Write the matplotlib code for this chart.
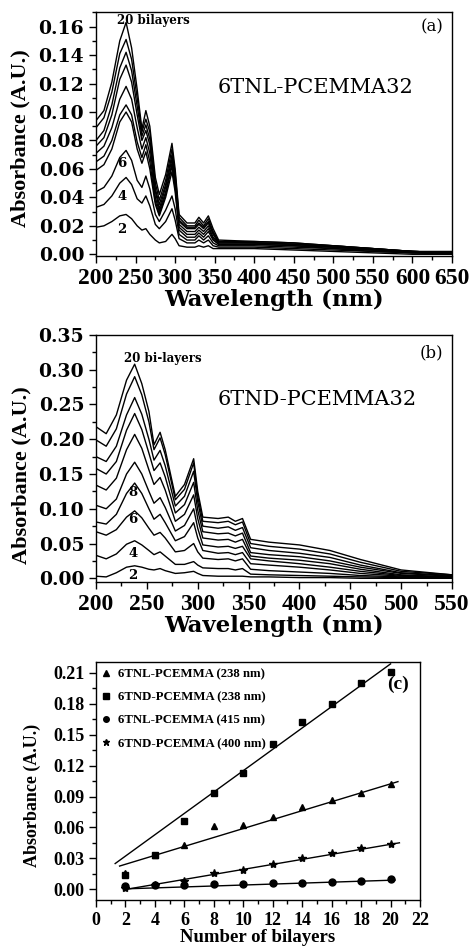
import matplotlib
matplotlib.use("Agg")
import matplotlib.pyplot as plt
from matplotlib.ticker import MultipleLocator, FormatStrFormatter
from matplotlib.lines import Line2D
import numpy as np

# ---------------- Panel (a) data: 6TNL-PCEMMA32 ----------------
wl_a = [200, 210, 220, 230, 238, 245, 252, 258, 263, 268, 275, 280, 288, 296, 300,
        305, 315, 325, 330, 336, 342, 348, 355, 400, 450, 500, 550, 600, 650]
a2 = [0.019,0.020,0.023,0.027,0.028,0.025,0.020,0.017,0.018,0.014,0.010,0.008,0.009,0.014,0.011,0.006,0.005,0.005,0.006,0.005,0.006,0.004,0.004,0.004,0.003,0.002,0.001,0.000,0.000]
a4 = [0.033,0.035,0.041,0.050,0.054,0.049,0.039,0.036,0.041,0.034,0.021,0.018,0.023,0.032,0.024,0.011,0.008,0.008,0.010,0.008,0.010,0.006,0.005,0.005,0.004,0.003,0.002,0.001,0.000]
a6 = [0.044,0.047,0.055,0.068,0.073,0.066,0.052,0.047,0.055,0.046,0.028,0.023,0.031,0.041,0.032,0.014,0.010,0.010,0.013,0.010,0.013,0.008,0.006,0.006,0.005,0.004,0.002,0.001,0.001]
a8 = [0.059,0.063,0.074,0.093,0.100,0.093,0.074,0.064,0.072,0.060,0.035,0.027,0.040,0.058,0.044,0.017,0.012,0.012,0.015,0.012,0.016,0.010,0.007,0.007,0.006,0.004,0.003,0.001,0.001]
a10 = [0.065,0.069,0.080,0.098,0.105,0.098,0.079,0.068,0.077,0.065,0.037,0.028,0.042,0.062,0.047,0.019,0.014,0.014,0.017,0.014,0.018,0.011,0.007,0.007,0.006,0.005,0.003,0.002,0.001]
a12 = [0.071,0.076,0.089,0.109,0.118,0.109,0.089,0.074,0.082,0.071,0.040,0.030,0.044,0.064,0.050,0.021,0.016,0.016,0.019,0.016,0.020,0.012,0.008,0.008,0.007,0.005,0.003,0.002,0.001]
a14 = [0.076,0.082,0.098,0.123,0.133,0.121,0.098,0.080,0.087,0.077,0.044,0.032,0.047,0.067,0.052,0.023,0.018,0.018,0.021,0.018,0.022,0.014,0.008,0.008,0.007,0.005,0.004,0.002,0.001]
a16 = [0.080,0.087,0.105,0.131,0.142,0.129,0.104,0.083,0.091,0.081,0.046,0.035,0.049,0.070,0.054,0.024,0.019,0.019,0.022,0.019,0.023,0.015,0.009,0.008,0.007,0.006,0.004,0.002,0.001]
a18 = [0.089,0.096,0.114,0.141,0.151,0.137,0.110,0.086,0.095,0.086,0.050,0.038,0.052,0.074,0.057,0.026,0.020,0.020,0.024,0.020,0.025,0.016,0.009,0.009,0.008,0.006,0.004,0.002,0.001]
a20 = [0.094,0.101,0.121,0.150,0.163,0.145,0.116,0.088,0.101,0.090,0.054,0.042,0.056,0.078,0.060,0.028,0.022,0.022,0.026,0.022,0.027,0.018,0.010,0.009,0.008,0.006,0.004,0.002,0.002]

# ---------------- Panel (b) data: 6TND-PCEMMA32 ----------------
wl_b = [200, 210, 220, 230, 238, 245, 252, 257, 263, 268, 278, 287, 296, 300, 305,
        320, 330, 337, 344, 352, 370, 400, 430, 460, 500, 550]
b2 = [0.003,0.002,0.008,0.016,0.018,0.016,0.013,0.012,0.014,0.011,0.007,0.008,0.010,0.007,0.004,0.003,0.003,0.003,0.003,0.002,0.002,0.001,0.001,0.000,0.000,0.000]
b4 = [0.033,0.028,0.035,0.049,0.054,0.048,0.040,0.034,0.038,0.032,0.020,0.020,0.024,0.019,0.015,0.014,0.014,0.012,0.014,0.006,0.005,0.004,0.003,0.002,0.001,0.000]
b6 = [0.067,0.062,0.070,0.088,0.097,0.087,0.072,0.062,0.066,0.058,0.038,0.040,0.050,0.038,0.029,0.027,0.028,0.025,0.028,0.013,0.011,0.009,0.007,0.004,0.002,0.001]
b8 = [0.081,0.078,0.092,0.122,0.137,0.122,0.100,0.085,0.092,0.080,0.054,0.060,0.080,0.058,0.040,0.036,0.037,0.034,0.037,0.021,0.019,0.016,0.012,0.007,0.003,0.001]
b10 = [0.105,0.100,0.114,0.150,0.167,0.150,0.125,0.108,0.116,0.102,0.068,0.076,0.100,0.072,0.048,0.045,0.046,0.043,0.046,0.028,0.025,0.021,0.016,0.010,0.004,0.002]
b12 = [0.134,0.127,0.144,0.185,0.207,0.187,0.156,0.135,0.145,0.127,0.082,0.092,0.120,0.086,0.058,0.055,0.056,0.052,0.056,0.032,0.029,0.026,0.021,0.013,0.005,0.002]
b14 = [0.158,0.150,0.168,0.213,0.237,0.214,0.180,0.155,0.166,0.146,0.094,0.106,0.138,0.098,0.067,0.064,0.065,0.061,0.065,0.037,0.034,0.031,0.025,0.016,0.007,0.003]
b16 = [0.175,0.168,0.190,0.235,0.260,0.236,0.200,0.170,0.184,0.162,0.104,0.118,0.154,0.110,0.075,0.072,0.074,0.069,0.073,0.044,0.040,0.036,0.030,0.019,0.008,0.004]
b18 = [0.199,0.190,0.215,0.265,0.290,0.264,0.225,0.185,0.202,0.178,0.113,0.128,0.166,0.118,0.082,0.080,0.082,0.077,0.081,0.050,0.046,0.042,0.035,0.023,0.010,0.005]
b20 = [0.218,0.208,0.235,0.285,0.308,0.280,0.240,0.192,0.210,0.185,0.118,0.135,0.172,0.125,0.088,0.086,0.088,0.082,0.086,0.056,0.052,0.048,0.040,0.027,0.012,0.005]

# ---------------- Panel (c) data ----------------
bilayers = [2, 4, 6, 8, 10, 12, 14, 16, 18, 20]
tnl_238 = [0.016, 0.033, 0.043, 0.061, 0.062, 0.070, 0.080, 0.087, 0.093, 0.102]
tnd_238 = [0.014, 0.033, 0.066, 0.093, 0.113, 0.141, 0.162, 0.180, 0.200, 0.211]
tnl_415 = [0.003, 0.004, 0.004, 0.005, 0.005, 0.006, 0.006, 0.007, 0.008, 0.010]
tnd_400 = [0.001, 0.004, 0.008, 0.016, 0.019, 0.025, 0.030, 0.035, 0.040, 0.044]
series_labels = ["6TNL-PCEMMA (238 nm)", "6TND-PCEMMA (238 nm)",
                 "6TNL-PCEMMA (415 nm)", "6TND-PCEMMA (400 nm)"]
# linear fits: (slope, intercept, x_start, x_end)
fit_tnl_238 = (0.00433, 0.0157, 1.6, 20.5)
fit_tnd_238 = (0.01035, 0.0116, 1.3, 20.0)
fit_tnl_415 = (0.000464, -0.0004, 2.0, 20.3)
fit_tnd_400 = (0.00243, -0.0049, 2.0, 20.6)

TIMES = "Liberation Serif"
WIDE = "DejaVu Serif"

fig = plt.figure(figsize=(4.70, 9.46), dpi=100)

def style_spectrum_axes(ax, xmaj, xmin, ymaj, ymin):
    ax.xaxis.set_major_locator(MultipleLocator(xmaj))
    ax.xaxis.set_minor_locator(MultipleLocator(xmin))
    ax.yaxis.set_major_locator(MultipleLocator(ymaj))
    ax.yaxis.set_minor_locator(MultipleLocator(ymin))
    ax.yaxis.set_major_formatter(FormatStrFormatter("%.2f"))
    ax.tick_params(which="both", direction="out", top=False, right=False, width=1.0, color="black")
    ax.tick_params(which="major", length=5)
    ax.tick_params(which="minor", length=3)
    for s in ax.spines.values():
        s.set_linewidth(1.0)
    for lab in ax.get_xticklabels():
        lab.set_fontfamily(TIMES); lab.set_fontweight("bold"); lab.set_fontsize(17)
    for lab in ax.get_yticklabels():
        lab.set_fontfamily(WIDE); lab.set_fontweight("bold"); lab.set_fontsize(13.5)

# ---- (a)
axa = fig.add_axes([0.2043, 0.7294, 0.7574, 0.2579])
for ys in [a2, a4, a6, a8, a10, a12, a14, a16, a18, a20]:
    axa.plot(wl_a, ys, color="black", lw=1.0)
axa.set_xlim(200, 650)
axa.set_ylim(-0.0012, 0.1703)
style_spectrum_axes(axa, 50, 25, 0.02, 0.01)
axa.set_xlabel("Wavelength (nm)", fontsize=16.5, family=WIDE, weight="bold", labelpad=0)
axa.set_ylabel("Absorbance (A.U.)", fontsize=16, family=TIMES, weight="bold")
axa.yaxis.set_label_coords(-0.183, 0.484)
axa.text(0.343, 0.69, "6TNL-PCEMMA32", transform=axa.transAxes, family=WIDE,
         fontsize=15, ha="left", va="center")
axa.text(0.975, 0.938, "(a)", transform=axa.transAxes, family=WIDE,
         fontsize=12, ha="right", va="center")
axa.text(0.06, 0.965, "20 bilayers", transform=axa.transAxes, family=WIDE,
         weight="bold", fontsize=8.5, ha="left", va="center")
for txt, (xx, yy) in {"6": (232.5, 0.0635), "4": (232.5, 0.0403), "2": (232.5, 0.0171)}.items():
    axa.text(xx, yy, txt, family=WIDE, weight="bold", fontsize=9.5, ha="center", va="center")

# ---- (b)
axb = fig.add_axes([0.2043, 0.3848, 0.7574, 0.2611])
for ys in [b2, b4, b6, b8, b10, b12, b14, b16, b18, b20]:
    axb.plot(wl_b, ys, color="black", lw=1.0)
axb.set_xlim(200, 550)
axb.set_ylim(-0.0053, 0.350)
style_spectrum_axes(axb, 50, 25, 0.05, 0.025)
axb.set_xlabel("Wavelength (nm)", fontsize=16.5, family=WIDE, weight="bold", labelpad=0)
axb.set_ylabel("Absorbance (A.U.)", fontsize=16, family=TIMES, weight="bold")
axb.yaxis.set_label_coords(-0.180, 0.433)
axb.text(0.343, 0.737, "6TND-PCEMMA32", transform=axb.transAxes, family=WIDE,
         fontsize=15, ha="left", va="center")
axb.text(0.975, 0.927, "(b)", transform=axb.transAxes, family=WIDE,
         fontsize=12, ha="right", va="center")
axb.text(0.08, 0.905, "20 bi-layers", transform=axb.transAxes, family=WIDE,
         weight="bold", fontsize=8.5, ha="left", va="center")
for txt, (xx, yy) in {"8": (236.4, 0.1227), "6": (236.4, 0.0839), "4": (236.4, 0.035), "2": (236.4, 0.0047)}.items():
    axb.text(xx, yy, txt, family=WIDE, weight="bold", fontsize=9.5, ha="center", va="center")

# ---- (c)
axc = fig.add_axes([0.2043, 0.0486, 0.6894, 0.2516])
markers = ["^", "s", "o", "*"]
sizes = [5, 5, 5, 6]
datasets = [tnl_238, tnd_238, tnl_415, tnd_400]
fits = [fit_tnl_238, fit_tnd_238, fit_tnl_415, fit_tnd_400]
handles = []
for ys, m, ms, lab in zip(datasets, markers, sizes, series_labels):
    axc.plot(bilayers, ys, linestyle="none", marker=m, ms=ms, color="black")
    handles.append(Line2D([], [], linestyle="none", marker=m, ms=ms - 1, color="black", label=lab))
for slope, icpt, x0, x1 in fits:
    xs = np.array([x0, x1])
    axc.plot(xs, slope * xs + icpt, color="black", lw=1.0)
axc.set_xlim(0, 22)
axc.set_ylim(-0.0103, 0.2204)
axc.xaxis.set_major_locator(MultipleLocator(2))
axc.xaxis.set_minor_locator(MultipleLocator(1))
axc.yaxis.set_major_locator(MultipleLocator(0.03))
axc.yaxis.set_minor_locator(MultipleLocator(0.015))
axc.yaxis.set_major_formatter(FormatStrFormatter("%.2f"))
axc.tick_params(which="both", direction="out", top=False, right=False, width=1.0)
axc.tick_params(which="major", length=5)
axc.tick_params(which="minor", length=3)
for s in axc.spines.values():
    s.set_linewidth(1.0)
for lab in axc.get_xticklabels() + axc.get_yticklabels():
    lab.set_fontfamily(TIMES); lab.set_fontweight("bold"); lab.set_fontsize(13)
axc.set_xlabel("Number of bilayers", fontsize=13.5, family=TIMES, weight="bold", labelpad=0)
axc.set_ylabel("Absorbance (A.U.)", fontsize=13, family=TIMES, weight="bold")
axc.yaxis.set_label_coords(-0.170, 0.441)
axc.legend(handles=handles, loc="upper left", bbox_to_anchor=(-0.012, 1.012), frameon=False,
           prop=dict(family=TIMES, weight="bold", size=9.2), handlelength=0.8,
           handletextpad=0.55, labelspacing=0.88, borderaxespad=0.3)
axc.text(0.965, 0.905, "(c)", transform=axc.transAxes, family=TIMES, weight="bold",
         fontsize=14, ha="right", va="center")

fig.savefig("out.png", dpi=100)
